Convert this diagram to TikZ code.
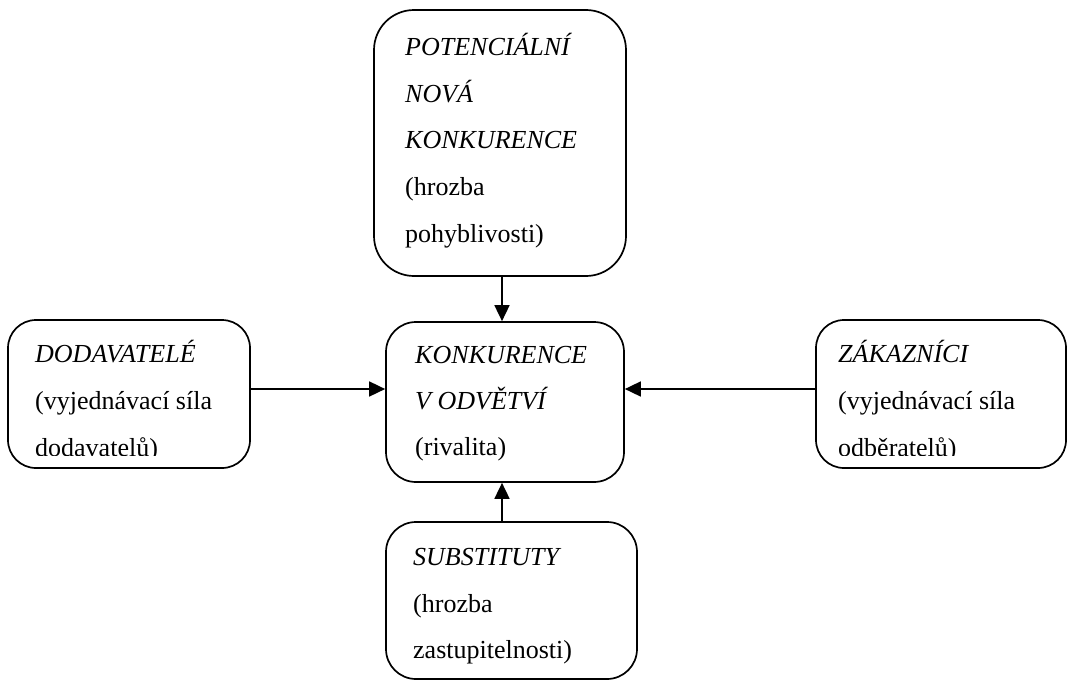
\documentclass[tikz,border=0pt]{standalone}
\usepackage{fontspec}
\setmainfont{Liberation Serif}
\usetikzlibrary{arrows.meta}
\begin{document}
\begin{tikzpicture}[x=1pt,y=-1pt,
  box/.style={draw, line width=1.7pt, rounded corners=#1, rectangle, inner sep=0pt},
  box/.default=30pt,
  txt/.style={anchor=base west, inner sep=0pt, font=\fontsize{26}{30}\selectfont},
  itx/.style={txt, font=\fontsize{26}{30}\selectfont\itshape},
  arr/.style={line width=1.7pt, -{Triangle[length=16pt,width=15pt]}}]
\useasboundingbox (0,0) rectangle (1068,680);
% boxes
\node[box=40pt, minimum width=252pt, minimum height=266pt] (top) at (500,143) {};
\node[box, minimum width=238pt, minimum height=160pt] (ctr) at (505,402) {};
\node[box, minimum width=251pt, minimum height=157pt] (bot) at (511.5,600.5) {};
\node[box=28pt, minimum width=242pt, minimum height=148pt] (lft) at (129,394) {};
\node[box=28pt, minimum width=250pt, minimum height=148pt] (rgt) at (941,394) {};
% texts
\node[itx] (t1) at (405,55) {POTENCIÁLNÍ};
\node[itx] (t2) at (405,102) {NOVÁ};
\node[itx] (t3) at (405,148) {KONKURENCE};
\node[txt] (t4) at (405,195) {(hrozba};
\node[txt] (t5) at (405,242) {pohyblivosti)};
\node[itx] (c1) at (415,363) {KONKURENCE};
\node[itx] (c2) at (415,409) {V ODVĚTVÍ};
\node[txt] (c3) at (415,455) {(rivalita)};
\node[itx] (b1) at (413,565) {SUBSTITUTY};
\node[txt] (b2) at (413,612) {(hrozba};
\node[txt] (b3) at (413,658) {zastupitelnosti)};
\begin{scope}
\clip (0,300) rectangle (1068,455.5);
\node[itx] (l1) at (35,362) {DODAVATELÉ};
\node[txt] (l2) at (35,409) {(vyjednávací síla};
\node[txt] (l3) at (35,456) {dodavatelů)};
\node[itx] (r1) at (838,362) {ZÁKAZNÍCI};
\node[txt] (r2) at (838,409) {(vyjednávací síla};
\node[txt] (r3) at (838,456) {odběratelů)};
\end{scope}
% connectors
\coordinate (vx) at (502,0);
\coordinate (hy) at (0,389);
\draw[arr] (vx |- top.south) -- (vx |- ctr.north);
\draw[arr] (vx |- bot.north) -- (vx |- ctr.south);
\draw[arr] (lft.east |- hy) -- (ctr.west |- hy);
\draw[arr] (rgt.west |- hy) -- (ctr.east |- hy);
\end{tikzpicture}
\end{document}
